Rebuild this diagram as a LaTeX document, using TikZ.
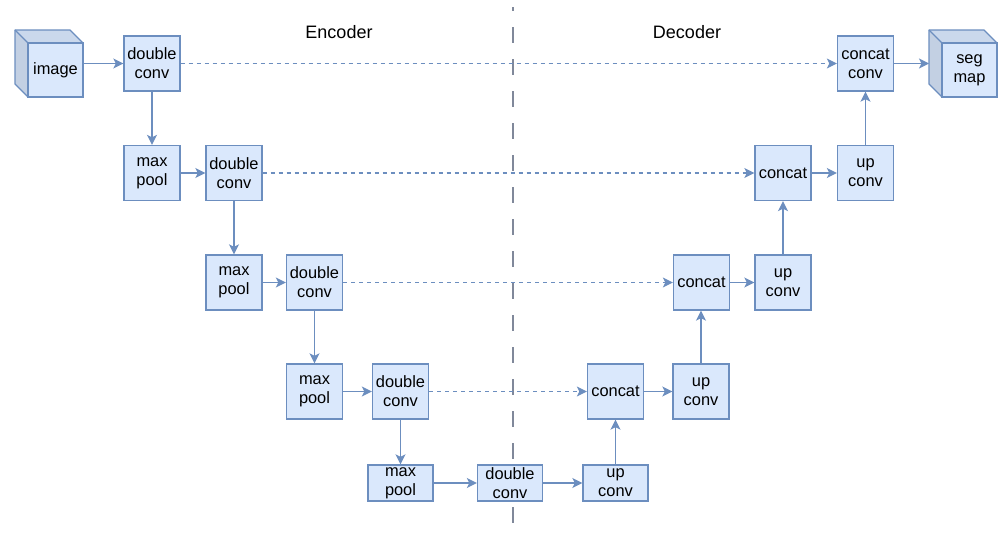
\documentclass[tikz,border=0pt]{standalone}
\usepackage{fontspec}
\setmainfont{Liberation Sans}
\usetikzlibrary{arrows.meta}
\definecolor{bfill}{HTML}{DAE8FC}
\definecolor{bline}{HTML}{6C8EBF}
\definecolor{sidef}{HTML}{C3D0E3}
\definecolor{topf}{HTML}{CAD8EC}
\definecolor{sepline}{HTML}{80889A}
\begin{document}
\begin{tikzpicture}[x=1pt,y=-1pt,
  blk/.style={draw=bline,fill=bfill,line width=1.3pt,align=center,inner sep=0pt,
    minimum width=56pt,minimum height=55pt,font=\fontsize{16.4}{19}\selectfont},
  lowblk/.style={blk,minimum width=65pt,minimum height=36pt},
  flow/.style={draw=bline,line width=1.6pt,-{Stealth[length=10pt,width=10pt,inset=2.5pt]}},
  skip/.style={draw=bline,line width=1.1pt,dash pattern=on 4pt off 4pt,-{Stealth[length=10pt,width=10pt,inset=2.5pt]}},
  hdr/.style={font=\fontsize{18}{21}\selectfont,inner sep=0pt},
  cubeface/.style={draw=bline,line width=1.3pt,line join=round}]
\useasboundingbox (0,0) rectangle (998,533);
% separator
\draw[sepline,line width=1.5pt,dash pattern=on 16pt off 16pt,dash phase=12pt] (513,7) -- (513,533);
% headers
\node[hdr] (enc) at (339,32) {Encoder};
\node[hdr] (dec) at (687,32) {Decoder};
% image cube
\fill[sidef] (15,30) -- (28,43) -- (28,97) -- (15,84) -- cycle;
\fill[topf] (15,30) -- (70,30) -- (83,43) -- (28,43) -- cycle;
\node[blk,minimum width=55pt,minimum height=54pt] (imgf) at (55.5,70) {image};
\draw[cubeface] (15,30) -- (70,30) -- (83,43) -- (83,97) -- (28,97) -- (15,84) -- cycle;
\draw[cubeface] (15,30) -- (28,43);
\coordinate (img) at (83,63.5);
% seg map cube
\fill[sidef] (929,30) -- (942,43) -- (942,97) -- (929,84) -- cycle;
\fill[topf] (929,30) -- (984,30) -- (997,43) -- (942,43) -- cycle;
\node[blk,minimum width=55pt,minimum height=54pt] (segf) at (969.5,70) {seg\\map};
\draw[cubeface] (929,30) -- (984,30) -- (997,43) -- (997,97) -- (942,97) -- (929,84) -- cycle;
\draw[cubeface] (929,30) -- (942,43);
\coordinate (seg) at (929,63.5);
% encoder
\node[blk] (dc1) at (152,63.5) {double\\conv};
\node[blk] (mp1) at (152,173) {max\\pool};
\node[blk] (dc2) at (234,173) {double\\conv};
\node[blk] (mp2) at (234,282.5) {max\\pool};
\node[blk] (dc3) at (314.5,282.5) {double\\conv};
\node[blk] (mp3) at (314.5,391.5) {max\\pool};
\node[blk] (dc4) at (400.5,391.5) {double\\conv};
\node[lowblk] (mp4) at (400.5,483) {max\\pool};
\node[lowblk] (dc5) at (510,483) {double\\conv};
% decoder
\node[lowblk] (up4) at (615.5,483) {up\\conv};
\node[blk] (cat3) at (615.5,391.5) {concat};
\node[blk] (up3) at (701,391.5) {up\\conv};
\node[blk] (cat2) at (701.5,282.5) {concat};
\node[blk] (up2) at (783,282.5) {up\\conv};
\node[blk] (cat1) at (783,173) {concat};
\node[blk] (up1) at (865.5,173) {up\\conv};
\node[blk] (cc) at (865.5,63.5) {concat\\conv};
% flow arrows
\draw[flow] (img) -- (dc1);
\draw[flow] (dc1) -- (mp1);
\draw[flow] (mp1) -- (dc2);
\draw[flow] (dc2) -- (mp2);
\draw[flow] (mp2) -- (dc3);
\draw[flow] (dc3) -- (mp3);
\draw[flow] (mp3) -- (dc4);
\draw[flow] (dc4) -- (mp4);
\draw[flow] (mp4) -- (dc5);
\draw[flow] (dc5) -- (up4);
\draw[flow] (up4) -- (cat3);
\draw[flow] (cat3) -- (up3);
\draw[flow] (up3.north) -- (up3.north |- cat2.south);
\draw[flow] (cat2) -- (up2);
\draw[flow] (up2) -- (cat1);
\draw[flow] (cat1) -- (up1);
\draw[flow] (up1) -- (cc);
\draw[flow] (cc) -- (seg);
% skip connections
\draw[skip] (dc1) -- (cc);
\draw[skip] (dc2) -- (cat1);
\draw[skip] (dc3) -- (cat2);
\draw[skip] (dc4) -- (cat3);
\end{tikzpicture}
\end{document}
